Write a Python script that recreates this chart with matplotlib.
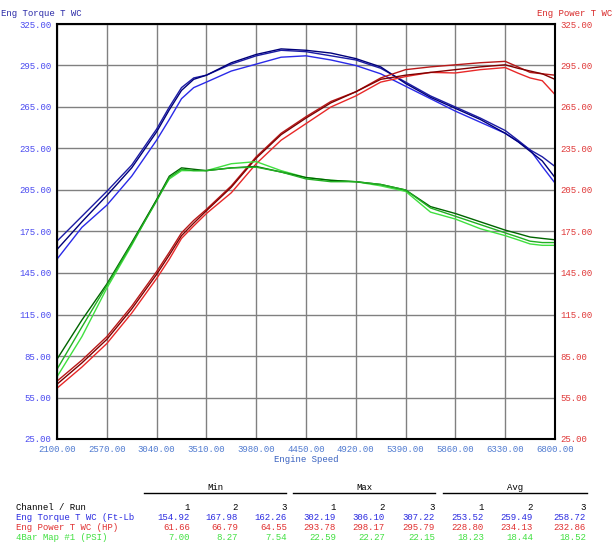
import matplotlib
matplotlib.use("Agg")
import matplotlib.pyplot as plt

# engine speed points (rpm)
rpm = [2100, 2335, 2570, 2805, 3040, 3160, 3275, 3390, 3510, 3745, 3980, 4215, 4450,
       4685, 4920, 5155, 5390, 5625, 5860, 6095, 6330, 6450, 6565, 6680, 6800]

# Eng Torque T WC (Ft-Lb), runs 1-3
torque1 = [155, 178, 194, 215, 241, 256, 271, 279, 283, 291, 296, 301, 302,
           299, 295, 289, 280, 271, 262, 254, 246, 240, 234, 222, 210]
torque2 = [168, 186, 204, 223, 249, 265, 279, 286, 288, 296, 302, 306, 305,
           302, 299, 293, 283, 273, 265, 257, 248, 241, 234, 229, 222]
torque3 = [162, 182, 201, 221, 247, 263, 277, 285, 288, 297, 303, 307, 306,
           304, 300, 294, 282, 272, 264, 256, 246, 240, 233, 226, 214]

# Eng Power T WC (HP), runs 1-3
power1 = [61.7, 77, 94, 116, 141, 155, 170, 179, 188, 203, 224, 241, 253,
          265, 273, 283, 287, 290, 289.6, 292, 293.5, 289.5, 286, 284, 274]
power2 = [66.8, 82, 99, 121, 146, 160, 174, 183, 191, 208, 229, 246, 258,
          269, 276, 286, 292, 294, 295.5, 297, 298, 294, 290, 289, 288]
power3 = [64.6, 80, 97, 119, 144, 158, 172, 181, 190, 207, 228, 245, 257,
          268, 276, 285, 288, 290, 292, 294, 295.5, 293, 291, 289, 285]

# 4Bar Map #1 (PSI), runs 1-3 (drawn x10 on the torque scale)
boost1 = [7.0, 9.9, 13.4, 16.5, 19.8, 21.3, 21.9, 21.9, 21.9, 22.4, 22.55, 21.9, 21.4,
          21.2, 21.1, 20.8, 20.4, 18.9, 18.4, 17.7, 17.2, 16.9, 16.6, 16.5, 16.5]
boost2 = [8.27, 11.1, 13.7, 16.7, 19.8, 21.5, 22.1, 22.0, 21.9, 22.1, 22.2, 21.8, 21.4,
          21.2, 21.1, 20.9, 20.5, 19.3, 18.8, 18.2, 17.6, 17.35, 17.1, 17.0, 16.9]
boost3 = [7.54, 10.6, 13.6, 16.6, 19.7, 21.4, 22.0, 21.9, 21.9, 22.1, 22.15, 21.8, 21.3,
          21.1, 21.1, 20.9, 20.5, 19.2, 18.6, 18.0, 17.4, 17.1, 16.8, 16.7, 16.7]
boost_scale = 10

xticks = [2100, 2570, 3040, 3510, 3980, 4450, 4920, 5390, 5860, 6330, 6800]
yticks = [25, 55, 85, 115, 145, 175, 205, 235, 265, 295, 325]

# summary table
runs = ["1", "2", "3", "1", "2", "3", "1", "2", "3"]
torque_stats = ["154.92", "167.98", "162.26", "302.19", "306.10", "307.22", "253.52", "259.49", "258.72"]
power_stats = ["61.66", "66.79", "64.55", "293.78", "298.17", "295.79", "228.80", "234.13", "232.86"]
boost_stats = ["7.00", "8.27", "7.54", "22.59", "22.27", "22.15", "18.23", "18.44", "18.52"]

W, H = 615, 552
MONO = "Liberation Mono"
FS = 6.5

fig = plt.figure(figsize=(W / 100, H / 100), dpi=100)
ax = fig.add_axes([57 / W, 1 - 439 / H, 498 / W, 415 / H])

blues = ["#2a2ae8", "#1c1ca4", "#00007a"]
reds = ["#e82828", "#b81818", "#800000"]
greens = ["#40e040", "#006400", "#22b022"]

for y, c in zip([torque1, torque2, torque3], blues):
    ax.plot(rpm, y, color=c, lw=1)
for y, c in zip([power1, power2, power3], reds):
    ax.plot(rpm, y, color=c, lw=1)
for y, c in zip([boost1, boost2, boost3], greens):
    ax.plot(rpm, [v * boost_scale for v in y], color=c, lw=1)

ax.set_xlim(2100, 6800)
ax.set_ylim(25, 325)
ax.set_xticks(xticks)
ax.set_yticks(yticks)
ax.set_xticklabels([f"{v:.2f}" for v in xticks], fontfamily=MONO, fontsize=FS, color="#4f7ad0")
ax.set_yticklabels([f"{v:.2f}" for v in yticks], fontfamily=MONO, fontsize=FS, color="#4a4af0")
ax.tick_params(length=0, pad=4)
ax.grid(True, color="#808080", lw=1)
for s in ax.spines.values():
    s.set_color("black")
    s.set_linewidth(1.5)

ax2 = ax.twinx()
ax2.set_ylim(25, 325)
ax2.set_yticks(yticks)
ax2.set_yticklabels([f"{v:.2f}" for v in yticks], fontfamily=MONO, fontsize=FS, color="#e03838")
ax2.tick_params(length=0, pad=4)
for s in ax2.spines.values():
    s.set_visible(False)

ax.set_xlabel("Engine Speed", fontfamily=MONO, fontsize=FS, color="#3a62c0", labelpad=1)


def ftext(x, y, s, **kw):
    kw.setdefault("fontfamily", MONO)
    kw.setdefault("fontsize", FS)
    kw.setdefault("va", "center")
    fig.text(x / W, 1 - y / H, s, **kw)


ftext(1, 13, "Eng Torque T WC", color="#2a2aa8")
ftext(612, 13, "Eng Power T WC", color="#d82828", ha="right")

# table
for label, x0, x1 in [("Min", 144, 286), ("Max", 293, 435), ("Avg", 443, 587)]:
    ftext((x0 + x1) / 2, 488, label, ha="center", color="black")
    fig.add_artist(plt.Line2D([x0 / W, x1 / W], [1 - 493 / H, 1 - 493 / H], color="black", lw=1))

col_right = [190, 238, 287, 336, 385, 435, 484, 533, 586]
rows = [("Channel / Run", runs, "black", 507),
        ("Eng Torque T WC (Ft-Lb", torque_stats, "#2a2ae0", 517),
        ("Eng Power T WC (HP)", power_stats, "#e03030", 527),
        ("4Bar Map #1 (PSI)", boost_stats, "#40e040", 537)]
for name, vals, c, y in rows:
    ftext(16, y, name, color=c)
    for xr, v in zip(col_right, vals):
        ftext(xr, y, v, color=c, ha="right")

fig.savefig("out.png", dpi=100)
